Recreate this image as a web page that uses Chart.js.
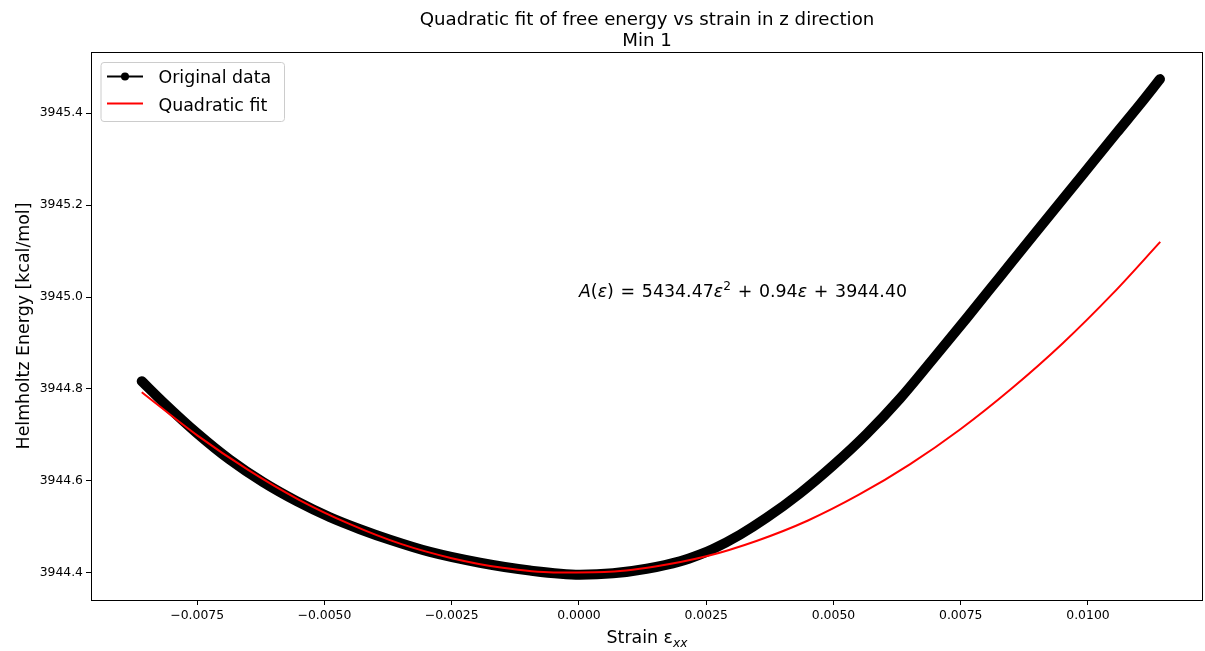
<!DOCTYPE html>
<html>
<head>
<meta charset="utf-8">
<script src="https://cdn.jsdelivr.net/npm/chart.js@4.4.1/dist/chart.umd.min.js"></script>
<style>
html,body{margin:0;padding:0;background:#ffffff;}
#wrap{width:1205px;height:651px;position:relative;}
</style>
</head>
<body>
<div id="wrap"><canvas id="c" width="1205" height="651"></canvas></div>
<script>
// ---- data ----
const strainData = [-0.008591, -0.008167, -0.007505, -0.006857, -0.006202, -0.005547, -0.004892, -0.004303, -0.003713, -0.002927,
  -0.001945, -0.000963, 0.000020, 0.000668, 0.001330, 0.001984, 0.002377, 0.002633, 0.003163, 0.003688,
  0.004342, 0.004996, 0.005652, 0.006306, 0.006955, 0.007623, 0.008271, 0.008919, 0.009902, 0.010570,
  0.011022, 0.011415];
const energyData = [3944.817, 3944.771, 3944.704, 3944.646, 3944.597, 3944.556, 3944.521, 3944.495, 3944.472, 3944.4455,
  3944.422, 3944.405, 3944.396, 3944.399, 3944.409, 3944.425, 3944.440, 3944.452, 3944.483, 3944.520,
  3944.573, 3944.634, 3944.702, 3944.779, 3944.865, 3944.955, 3945.044, 3945.133, 3945.267, 3945.358,
  3945.419, 3945.474];
const strainFit = [-0.00859, -0.0075, -0.0065, -0.0055, -0.0045, -0.0035, -0.0025, -0.0015, -0.0005, 0.0005,
  0.0015, 0.0025, 0.0035, 0.0045, 0.0055, 0.0065, 0.0075, 0.0085, 0.0095, 0.0105, 0.01142];
const energyFit = [3944.793, 3944.699, 3944.624, 3944.559, 3944.506, 3944.463, 3944.432, 3944.411, 3944.401, 3944.402,
  3944.414, 3944.436, 3944.470, 3944.514, 3944.570, 3944.636, 3944.713, 3944.801, 3944.899, 3945.009, 3945.120];
const fitCoeffs = ["5434.47", "0.94", "3944.40"];
const xTicks = [-0.0075, -0.0050, -0.0025, 0.0000, 0.0025, 0.0050, 0.0075, 0.0100];
const xTickLabels = ["\u22120.0075", "\u22120.0050", "\u22120.0025", "0.0000", "0.0025", "0.0050", "0.0075", "0.0100"];
const yTicks = [3944.4, 3944.6, 3944.8, 3945.0, 3945.2, 3945.4];
const yTickLabels = ["3944.4", "3944.6", "3944.8", "3945.0", "3945.2", "3945.4"];
const titleLines = ["Quadratic fit of free energy vs strain in z direction", "Min 1"];
const seriesNames = ["Original data", "Quadratic fit"];
const yTitle = "Helmholtz Energy [kcal/mol]";
const annotAt = [0.0, 3945.0];

const FONT = '"DejaVu Sans", "Liberation Sans", sans-serif';

const decorPlugin = {
  id: 'decor',
  afterDraw(chart) {
    const ctx = chart.ctx;
    const a = chart.chartArea;
    const xs = chart.scales.x, ys = chart.scales.y;
    ctx.save();
    // frame (all four spines)
    ctx.strokeStyle = '#000';
    ctx.lineWidth = 1;
    ctx.strokeRect(Math.round(a.left) + 0.5, Math.round(a.top) + 0.5, Math.round(a.right - a.left) - 1, Math.round(a.bottom - a.top));

    // title
    ctx.fillStyle = '#000';
    ctx.textAlign = 'center';
    ctx.textBaseline = 'alphabetic';
    ctx.font = '18.2px ' + FONT;
    const cx = (a.left + a.right) / 2;
    ctx.fillText(titleLines[0], cx, 24.5);
    ctx.fillText(titleLines[1], cx, 45.5);

    // y title
    ctx.save();
    ctx.translate(29, (a.top + a.bottom) / 2);
    ctx.rotate(-Math.PI / 2);
    ctx.font = '17.4px ' + FONT;
    ctx.textAlign = 'center';
    ctx.fillText(yTitle, 0, 0);
    ctx.restore();

    // x title: Strain ε_xx
    ctx.font = '17.4px ' + FONT;
    const mainT = 'Strain \u03b5';
    const w1 = ctx.measureText(mainT).width;
    ctx.font = 'italic 12.2px ' + FONT;
    const w2 = ctx.measureText('xx').width;
    const sx = cx - (w1 + w2) / 2;
    ctx.textAlign = 'left';
    ctx.font = '17.4px ' + FONT;
    ctx.fillText(mainT, sx, 643);
    ctx.font = 'italic 12.2px ' + FONT;
    ctx.fillText('xx', sx + w1, 646.5);

    // annotation (mathtext-like)
    const pieces = [
      ['A', 'i'], ['(', 'n'], ['\u03b5', 'i'], [')', 'n'], [' = ', 'o'], [fitCoeffs[0], 'n'], ['\u03b5', 'i'], ['2', 's'],
      [' + ', 'o'], [fitCoeffs[1], 'n'], ['\u03b5', 'i'], [' + ', 'o'], [fitCoeffs[2], 'n']
    ];
    let px = xs.getPixelForValue(annotAt[0]);
    const py = ys.getPixelForValue(annotAt[1]);
    for (const [t, k] of pieces) {
      let dy = 0;
      if (k === 'i') ctx.font = 'italic 17.4px ' + FONT;
      else if (k === 's') { ctx.font = '12.2px ' + FONT; dy = -7.5; }
      else ctx.font = '17.4px ' + FONT;
      if (k === 'o') {
        const wt = ctx.measureText(t.trim()).width;
        const gap = ctx.measureText(' ').width + 1.2;
        ctx.fillText(t.trim(), px + gap, py);
        px += wt + 2 * gap;
      } else {
        ctx.fillText(t, px, py + dy);
        px += ctx.measureText(t).width;
      }
    }

    // legend
    const bx = 101, by = 62.5, bw = 183.5, bh = 59, r = 3;
    ctx.beginPath();
    ctx.moveTo(bx + r, by);
    ctx.arcTo(bx + bw, by, bx + bw, by + bh, r);
    ctx.arcTo(bx + bw, by + bh, bx, by + bh, r);
    ctx.arcTo(bx, by + bh, bx, by, r);
    ctx.arcTo(bx, by, bx + bw, by, r);
    ctx.closePath();
    ctx.fillStyle = 'rgba(255,255,255,0.8)';
    ctx.fill();
    ctx.strokeStyle = '#cccccc';
    ctx.lineWidth = 1;
    ctx.stroke();

    ctx.lineWidth = 2;
    ctx.strokeStyle = '#000';
    ctx.beginPath(); ctx.moveTo(107, 76.5); ctx.lineTo(143, 76.5); ctx.stroke();
    ctx.fillStyle = '#000';
    ctx.beginPath(); ctx.arc(125, 76.5, 4, 0, Math.PI * 2); ctx.fill();
    ctx.strokeStyle = '#ff0000';
    ctx.beginPath(); ctx.moveTo(107, 103.5); ctx.lineTo(143, 103.5); ctx.stroke();

    ctx.fillStyle = '#000';
    ctx.font = '17.4px ' + FONT;
    ctx.textAlign = 'left';
    ctx.fillText(seriesNames[0], 158.5, 83);
    ctx.fillText(seriesNames[1], 158.5, 110.5);
    ctx.restore();
  }
};

const ctx = document.getElementById('c').getContext('2d');
new Chart(ctx, {
  type: 'line',
  data: {
    datasets: [
      {
        label: seriesNames[0],
        data: strainData.map((x, i) => ({ x: x, y: energyData[i] })),
        borderColor: '#000000',
        backgroundColor: '#000000',
        borderWidth: 10,
        borderCapStyle: 'round',
        borderJoinStyle: 'round',
        pointRadius: 0,
        cubicInterpolationMode: 'monotone',
        fill: false,
        order: 1
      },
      {
        label: seriesNames[1],
        data: strainFit.map((x, i) => ({ x: x, y: energyFit[i] })),
        borderColor: '#ff0000',
        backgroundColor: '#ff0000',
        borderWidth: 2,
        pointRadius: 0,
        cubicInterpolationMode: 'monotone',
        fill: false,
        order: 0
      }
    ]
  },
  options: {
    responsive: false,
    animation: false,
    events: [],
    layout: { padding: { top: 52, right: 2, left: 0, bottom: 0 } },
    plugins: { legend: { display: false }, tooltip: { enabled: false }, title: { display: false } },
    scales: {
      x: {
        type: 'linear',
        min: -0.009587,
        max: 0.01226,
        afterBuildTicks: (s) => { s.ticks = xTicks.map(v => ({ value: v })); },
        afterFit: (s) => { s.height = 51; },
        grid: { drawOnChartArea: false, drawTicks: true, tickLength: 5, color: '#000', tickColor: '#000' },
        border: { display: false },
        ticks: {
          autoSkip: false, maxRotation: 0, minRotation: 0, padding: 3,
          color: '#000', font: { family: FONT, size: 12.4 },
          callback: (v, i) => xTickLabels[i]
        }
      },
      y: {
        type: 'linear',
        min: 3944.341,
        max: 3945.533,
        afterBuildTicks: (s) => { s.ticks = yTicks.map(v => ({ value: v })); },
        afterFit: (s) => { s.width = 91; },
        grid: { drawOnChartArea: false, drawTicks: true, tickLength: 5, color: '#000', tickColor: '#000' },
        border: { display: false },
        ticks: {
          autoSkip: false, padding: 3,
          color: '#000', font: { family: FONT, size: 12.4 },
          callback: (v, i) => yTickLabels[i]
        }
      }
    }
  },
  plugins: [decorPlugin]
});
</script>
</body>
</html>
